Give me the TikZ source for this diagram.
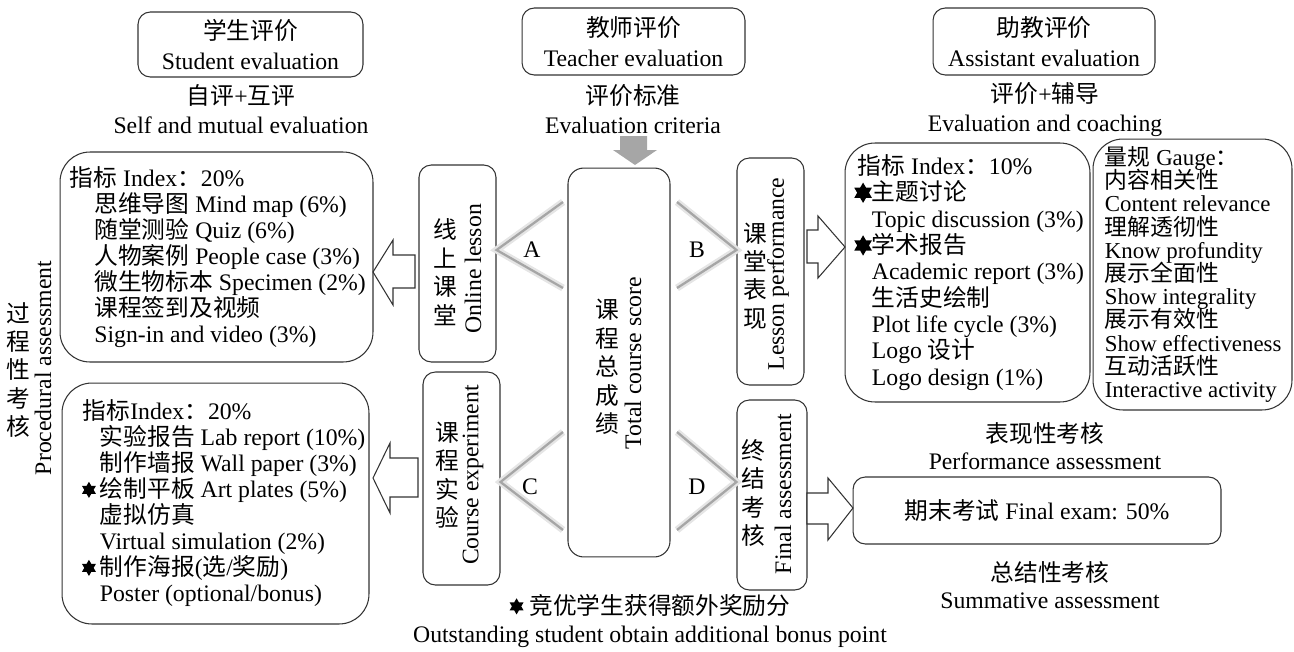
\documentclass[tikz,border=0pt]{standalone}
\usepackage{fontspec}
\setmainfont{Liberation Serif}
\newfontfamily\zhfont{Noto Sans CJK SC}
\usepackage{tikz}
\usetikzlibrary{positioning,calc}
\newcommand{\zh}[1]{{\zhfont #1}}
\newcommand{\mstar}[1][4.6pt]{\tikz[baseline={(0pt,-4.6pt)}]\fill (90:#1) -- (210:#1) -- (330:#1) -- cycle (270:#1) -- (30:#1) -- (150:#1) -- cycle;}
\lineskiplimit=-30pt
\tikzstyle{rbox}=[draw=black!80,line width=0.6pt,rounded corners=7pt]
\tikzstyle{bigbox}=[rbox,rounded corners=17pt]
\tikzstyle{topbox}=[rbox,align=center,font=\fontsize{13.5}{17}\selectfont]
\tikzstyle{itemlist}=[align=left,inner sep=0pt,font=\fontsize{13.5}{14.8}\selectfont]
\tikzstyle{vstack}=[align=center,inner sep=0pt,font=\zhfont\fontsize{13.5}{16.2}\selectfont]
\tikzstyle{vlabel}=[rotate=90,inner sep=0pt]
\tikzstyle{chev}=[draw=black!35,line width=1.3pt,preaction={draw=black!10,line width=4pt}]
\tikzstyle{hollow}=[draw=black!80,line width=0.6pt,fill=white]
\begin{document}
\begin{tikzpicture}[x=0.02cm,y=-0.02cm,font=\fontsize{13.5}{16}\selectfont]
\useasboundingbox (0,0) rectangle (1294,652);

\node[topbox,minimum width=4.5cm,minimum height=1.3cm] (stu) at (250.5,44.5) {\zh{学生评价}\\Student evaluation};
\node[topbox,minimum width=4.46cm,minimum height=1.34cm] (tea) at (633.5,41.5) {\zh{教师评价}\\Teacher evaluation};
\node[topbox,minimum width=4.44cm,minimum height=1.34cm] (ast) at (1044,41.5) {\zh{助教评价}\\Assistant evaluation};

\node[align=center,font=\fontsize{13.5}{16.5}\selectfont] (stuN) at (241,109.5) {\zh{自评}+\zh{互评}\\Self and mutual evaluation};
\node[align=center,font=\fontsize{13.5}{16.5}\selectfont] (teaN) at (633,109.5) {\zh{评价标准}\\Evaluation criteria};
\node[align=center,font=\fontsize{13.5}{16.5}\selectfont] (astN) at (1045,109.5) {\zh{评价}+\zh{辅导}\\Evaluation and coaching};

\fill[black!35] (620,136) -- (647,136) -- (647,150) -- (657,150) -- (635,165) -- (613,150) -- (620,150) -- cycle;

% total score in the middle
\node[rbox,rounded corners=9pt,minimum width=2.04cm,minimum height=7.78cm] (tot) at (619,362.5) {};
\node[vstack] (totZ) at (607,367) {课\\程\\总\\成\\绩};
\node[vlabel] (totE) at (633,363) {Total course score};

\node[rbox,minimum width=1.54cm,minimum height=3.94cm] (onl) at (457.5,263.5) {};
\node[vstack] (onlZ) at (445,272) {线\\上\\课\\堂};
\node[vlabel] (onlE) at (473,269) {Online lesson};

\node[rbox,minimum width=1.54cm,minimum height=4.26cm] (exp) at (461.5,478.5) {};
\node[vstack] (expZ) at (447,475) {课\\程\\实\\验};
\node[vlabel] (expE) at (473,475) {Course experiment};

\node[rbox,minimum width=1.34cm,minimum height=4.54cm] (les) at (770.5,271.5) {};
\node[vstack] (lesZ) at (755,276) {课\\堂\\表\\现};
\node[vlabel] (lesE) at (778,274) {Lesson performance};

\node[rbox,minimum width=1.40cm,minimum height=3.80cm] (fin) at (772,495) {};
\node[vstack] (finZ) at (753,493) {终\\结\\考\\核};
\node[vlabel] (finE) at (783,494) {Final assessment};

\node (labA) at (532,250) {A};
\node (labB) at (697,250) {B};
\node (labC) at (530,487) {C};
\node (labD) at (697,487) {D};

\coordinate (chA1) at (563,202); \coordinate (chA2) at (563,288);
\coordinate (chB1) at (677,202); \coordinate (chB2) at (677,288);
\coordinate (chC1) at (563,432); \coordinate (chC2) at (563,530);
\coordinate (chD1) at (677,432); \coordinate (chD2) at (677,530);
\draw[chev] (chA1) -- (onl.east |- labA) -- (chA2);
\draw[chev] (chB1) -- (les.west |- labB) -- (chB2);
\draw[chev] (chC1) -- (exp.east |- 0,482) -- (chC2);
\draw[chev] (chD1) -- (fin.west |- 0,482) -- (chD2);

% procedural part
\node[vstack] (procZ) at (18,370) {过\\程\\性\\考\\核};
\node[vlabel] (procE) at (43,368) {Procedural assessment};

\node[bigbox,minimum width=6.26cm,minimum height=4.2cm] (up) at (216.5,257) {};
\node[itemlist,right=0.2cm of up.west] (upL) {\zh{指标} Index\zh{：}20\%\\
\hspace*{14pt}\zh{思维导图} Mind map (6\%)\\
\hspace*{14pt}\zh{随堂测验} Quiz (6\%)\\
\hspace*{14pt}\zh{人物案例} People case (3\%)\\
\hspace*{14pt}\zh{微生物标本} Specimen (2\%)\\
\hspace*{14pt}\zh{课程签到及视频}\\
\hspace*{14pt}Sign-in and video (3\%)};

\node[bigbox,minimum width=6.14cm,minimum height=4.82cm] (lo) at (215.5,503.5) {};
\node[itemlist,right=0.42cm of lo.west] (loL) {\zh{指标}Index\zh{：}20\%\\
\hspace*{9.7pt}\zh{实验报告} Lab report (10\%)\\
\hspace*{9.7pt}\zh{制作墙报} Wall paper (3\%)\\
\hspace*{9.7pt}\llap{\mstar\,}\zh{绘制平板} Art plates (5\%)\\
\hspace*{9.7pt}\zh{虚拟仿真}\\
\hspace*{9.7pt}Virtual simulation (2\%)\\
\hspace*{9.7pt}\llap{\mstar\,}\zh{制作海报}(\zh{选}/\zh{奖励})\\
\hspace*{9.7pt}Poster (optional/bonus)};

\coordinate (tipUp) at (373,272);
\coordinate (tipLo) at (373,478);
\draw[hollow] (tipUp) -- ++(20,-32) -- ++(0,15) -- ++(22,0) -- ++(0,33) -- ++(-22,0) -- ++(0,17) -- cycle;
\draw[hollow] (tipLo) -- ++(17,-35) -- ++(0,15) -- ++(28,0) -- ++(0,39) -- ++(-28,0) -- ++(0,16) -- cycle;

% performance part
\node[bigbox,minimum width=4.9cm,minimum height=5.18cm] (idx) at (967.5,272.5) {};
\node[itemlist,font=\fontsize{13.5}{15}\selectfont,right=0.26cm of idx.west] (idxL) {\zh{指标} Index\zh{：}10\%\\
\hspace*{8pt}\llap{\mstar[5.8pt]}\zh{主题讨论}\\
\hspace*{8pt}Topic discussion (3\%)\\
\hspace*{8pt}\llap{\mstar[5.8pt]}\zh{学术报告}\\
\hspace*{8pt}Academic report (3\%)\\
\hspace*{8pt}\zh{生活史绘制}\\
\hspace*{8pt}Plot life cycle (3\%)\\
\hspace*{8pt}Logo \zh{设计}\\
\hspace*{8pt}Logo design (1\%)};

\node[bigbox,minimum width=3.98cm,minimum height=5.42cm] (gau) at (1192.5,274.5) {};
\node[itemlist,font=\fontsize{13}{13.2}\selectfont,right=0.24cm of gau.west] (gauL) {\zh{量规} Gauge\zh{：}\\
\zh{内容相关性}\\
Content relevance\\
\zh{理解透彻性}\\
Know profundity\\
\zh{展示全面性}\\
Show integrality\\
\zh{展示有效性}\\
Show effectiveness\\
\zh{互动活跃性}\\
Interactive activity};

\node[rbox,minimum width=7.36cm,minimum height=1.34cm] (exam) at (1037,510.5) {\zh{期末考试} Final exam: 50\%};
\node[align=center,font=\fontsize{13.5}{15.4}\selectfont] (perf) at (1045,446.5) {\zh{表现性考核}\\Performance assessment};
\node[align=center,font=\fontsize{13.5}{15}\selectfont] (summ) at (1050,585) {\zh{总结性考核}\\Summative assessment};

\coordinate (tipIdx) at (845,247);
\coordinate (tipExam) at (853,508);
\draw[hollow] (tipIdx) -- ++(-27,-31) -- ++(0,14) -- ++(-11,0) -- ++(0,33) -- ++(11,0) -- ++(0,15) -- cycle;
\draw[hollow] (tipExam) -- ++(-25,-30) -- ++(0,15) -- ++(-21,0) -- ++(0,31) -- ++(21,0) -- ++(0,16) -- cycle;

\node[align=center] (note) at (650,621) {\mstar\ \zh{竞优学生获得额外奖励分}\\Outstanding student obtain additional bonus point};

\end{tikzpicture}
\end{document}
